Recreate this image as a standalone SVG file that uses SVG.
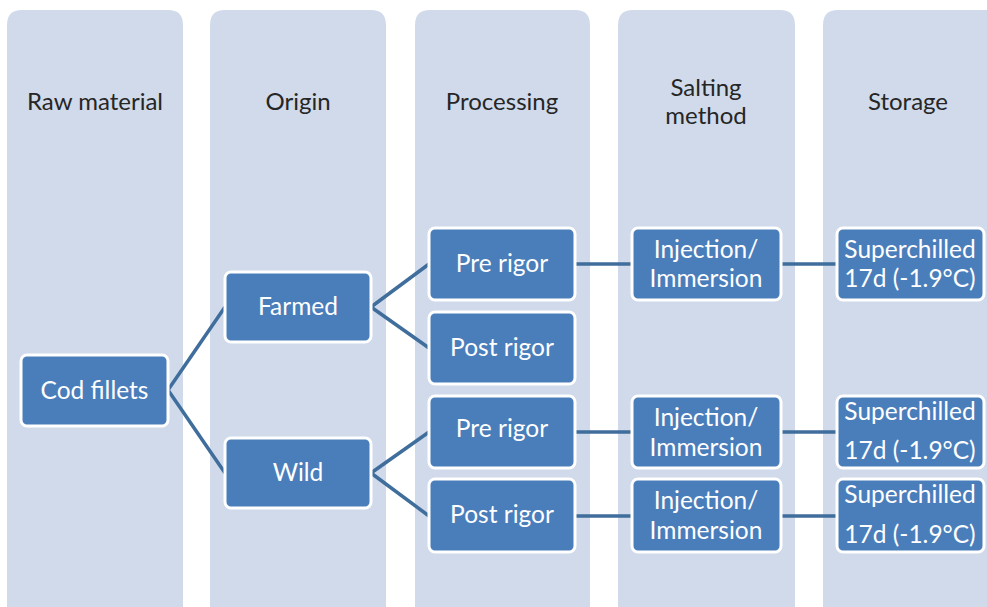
<svg xmlns="http://www.w3.org/2000/svg" width="987" height="607" viewBox="0 0 987 607">
  <style>
    .col { fill: #D0DAEA; }
    .hdr { font-family: Lato, "Noto Sans", sans-serif; font-size: 24px; fill: #262626; text-anchor: middle; }
    .box { fill: #4A7EBB; stroke: #FFFFFF; stroke-width: 3; }
    .lbl { font-family: Lato, "Noto Sans", sans-serif; font-size: 24.5px; fill: #FFFFFF; text-anchor: middle; }
    .wire { stroke: #3F6D9C; stroke-width: 3.5; fill: none; }
  </style>

  <!-- column bands -->
  <g id="columns">
    <path class="col" d="M7,625 V25 Q7,10 22,10 H168 Q183,10 183,25 V625 Z"/>
    <path class="col" d="M210,625 V25 Q210,10 225,10 H371 Q386,10 386,25 V625 Z"/>
    <path class="col" d="M415,625 V25 Q415,10 430,10 H575 Q590,10 590,25 V625 Z"/>
    <path class="col" d="M618,625 V25 Q618,10 633,10 H780 Q795,10 795,25 V625 Z"/>
    <path class="col" d="M823,625 V25 Q823,10 838,10 H1000 V625 Z"/>
  </g>

  <!-- column headings -->
  <g id="headers">
    <text class="hdr" x="95" y="110">Raw material</text>
    <text class="hdr" x="298" y="110">Origin</text>
    <text class="hdr" x="502" y="110">Processing</text>
    <text class="hdr" x="706" y="96">Salting</text>
    <text class="hdr" x="706" y="124">method</text>
    <text class="hdr" x="908" y="110">Storage</text>
  </g>

  <!-- connectors -->
  <g id="connectors">
    <path class="wire" d="M168,390 L225,307"/>
    <path class="wire" d="M168,390 L225,473"/>
    <path class="wire" d="M371,307 L429,264"/>
    <path class="wire" d="M371,307 L429,348"/>
    <path class="wire" d="M371,473 L429,432"/>
    <path class="wire" d="M371,473 L429,516"/>
    <path class="wire" d="M575,264 H632"/>
    <path class="wire" d="M575,432 H632"/>
    <path class="wire" d="M575,516 H632"/>
    <path class="wire" d="M781,264 H836"/>
    <path class="wire" d="M781,432 H836"/>
    <path class="wire" d="M781,516 H836"/>
  </g>

  <g id="cod-fillets">
    <rect class="box" x="21" y="355" width="147" height="71" rx="6"/>
    <text class="lbl" x="94.5" y="399">Cod fillets</text>
  </g>

  <g id="farmed">
    <rect class="box" x="225" y="272" width="146" height="70" rx="6"/>
    <text class="lbl" x="298" y="315">Farmed</text>
  </g>
  <g id="wild">
    <rect class="box" x="225" y="438" width="146" height="70" rx="6"/>
    <text class="lbl" x="298" y="481">Wild</text>
  </g>

  <g id="farmed-pre-rigor">
    <rect class="box" x="429" y="228" width="146" height="72" rx="6"/>
    <text class="lbl" x="502" y="272">Pre rigor</text>
  </g>
  <g id="farmed-post-rigor">
    <rect class="box" x="429" y="312" width="146" height="72" rx="6"/>
    <text class="lbl" x="502" y="356">Post rigor</text>
  </g>
  <g id="wild-pre-rigor">
    <rect class="box" x="429" y="396" width="146" height="72" rx="6"/>
    <text class="lbl" x="502" y="437">Pre rigor</text>
  </g>
  <g id="wild-post-rigor">
    <rect class="box" x="429" y="479" width="146" height="73" rx="6"/>
    <text class="lbl" x="502" y="523">Post rigor</text>
  </g>

  <g id="salting-1">
    <rect class="box" x="632" y="228" width="149" height="72" rx="6"/>
    <text class="lbl" x="706" y="258">Injection/</text>
    <text class="lbl" x="706" y="287">Immersion</text>
  </g>
  <g id="salting-2">
    <rect class="box" x="632" y="396" width="149" height="72" rx="6"/>
    <text class="lbl" x="706" y="426">Injection/</text>
    <text class="lbl" x="706" y="456">Immersion</text>
  </g>
  <g id="salting-3">
    <rect class="box" x="632" y="479" width="149" height="73" rx="6"/>
    <text class="lbl" x="706" y="509">Injection/</text>
    <text class="lbl" x="706" y="539">Immersion</text>
  </g>

  <g id="storage-1">
    <rect class="box" x="837" y="228" width="147" height="72" rx="6"/>
    <text class="lbl" x="910" y="258">Superchilled</text>
    <text class="lbl" x="910" y="287">17d (-1.9°C)</text>
  </g>
  <g id="storage-2">
    <rect class="box" x="837" y="396" width="147" height="72" rx="6"/>
    <text class="lbl" x="910" y="420">Superchilled</text>
    <text class="lbl" x="910" y="459">17d (-1.9°C)</text>
  </g>
  <g id="storage-3">
    <rect class="box" x="837" y="479" width="147" height="73" rx="6"/>
    <text class="lbl" x="910" y="503">Superchilled</text>
    <text class="lbl" x="910" y="543">17d (-1.9°C)</text>
  </g>
</svg>
